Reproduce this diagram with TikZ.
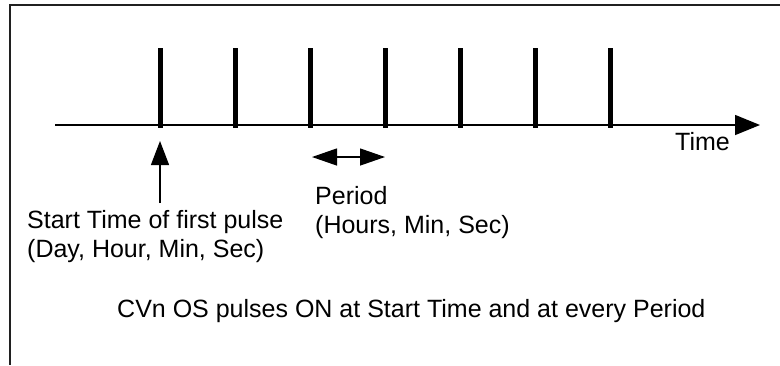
\documentclass[tikz,border=0pt]{standalone}
\usepackage{fontspec}
\setmainfont{Liberation Sans}
\usetikzlibrary{arrows.meta, positioning}
\definecolor{framegray}{HTML}{202020}

\begin{document}
\begin{tikzpicture}[x=1bp, y=-1bp,
    pulse/.style={line width=5bp},
    timeaxis/.style={line width=1.5bp, -{Triangle[length=25bp, width=20bp]}},
    marker/.style={line width=1.3bp, -{Triangle[length=24bp, width=18bp]}},
    span/.style={line width=1.3bp, {Triangle[length=25bp, width=17bp]}-{Triangle[length=25bp, width=17bp]}},
    caption/.style={font=\fontsize{25bp}{29bp}\selectfont, inner sep=0pt, align=left}
]
\useasboundingbox (0,0) rectangle (780,365);
\draw[line width=1.6bp, draw=framegray] (780,5) -- (10,5) -- (10,365);

\coordinate (axisstart) at (55,125);
\coordinate (axisend)   at (760,125);
\draw[timeaxis] (axisstart) -- (axisend);

\foreach \i in {0,...,6} {
  \coordinate (p\i) at (160+75*\i,125);
  \draw[pulse] (160+75*\i,48) -- (160+75*\i,128);
}

\node[caption, anchor=base west] (time) at (675,150) {Time};

\coordinate (starttail) at (160,203);
\coordinate (starttip)  at (160,141);
\draw[marker] (starttail) -- (starttip);

\coordinate (periodl) at (312,157);
\coordinate (periodr) at (385,157);
\draw[span] (periodl) -- (periodr);

\node[caption, anchor=base west] (start) at (27,257)
  {Start Time of first pulse\\(Day, Hour, Min, Sec)};
\node[caption, anchor=base west] (period) at (315,233)
  {Period\\(Hours, Min, Sec)};
\node[caption, anchor=base west] (note) at (117,317)
  {CVn OS pulses ON at Start Time and at every Period};
\end{tikzpicture}
\end{document}
